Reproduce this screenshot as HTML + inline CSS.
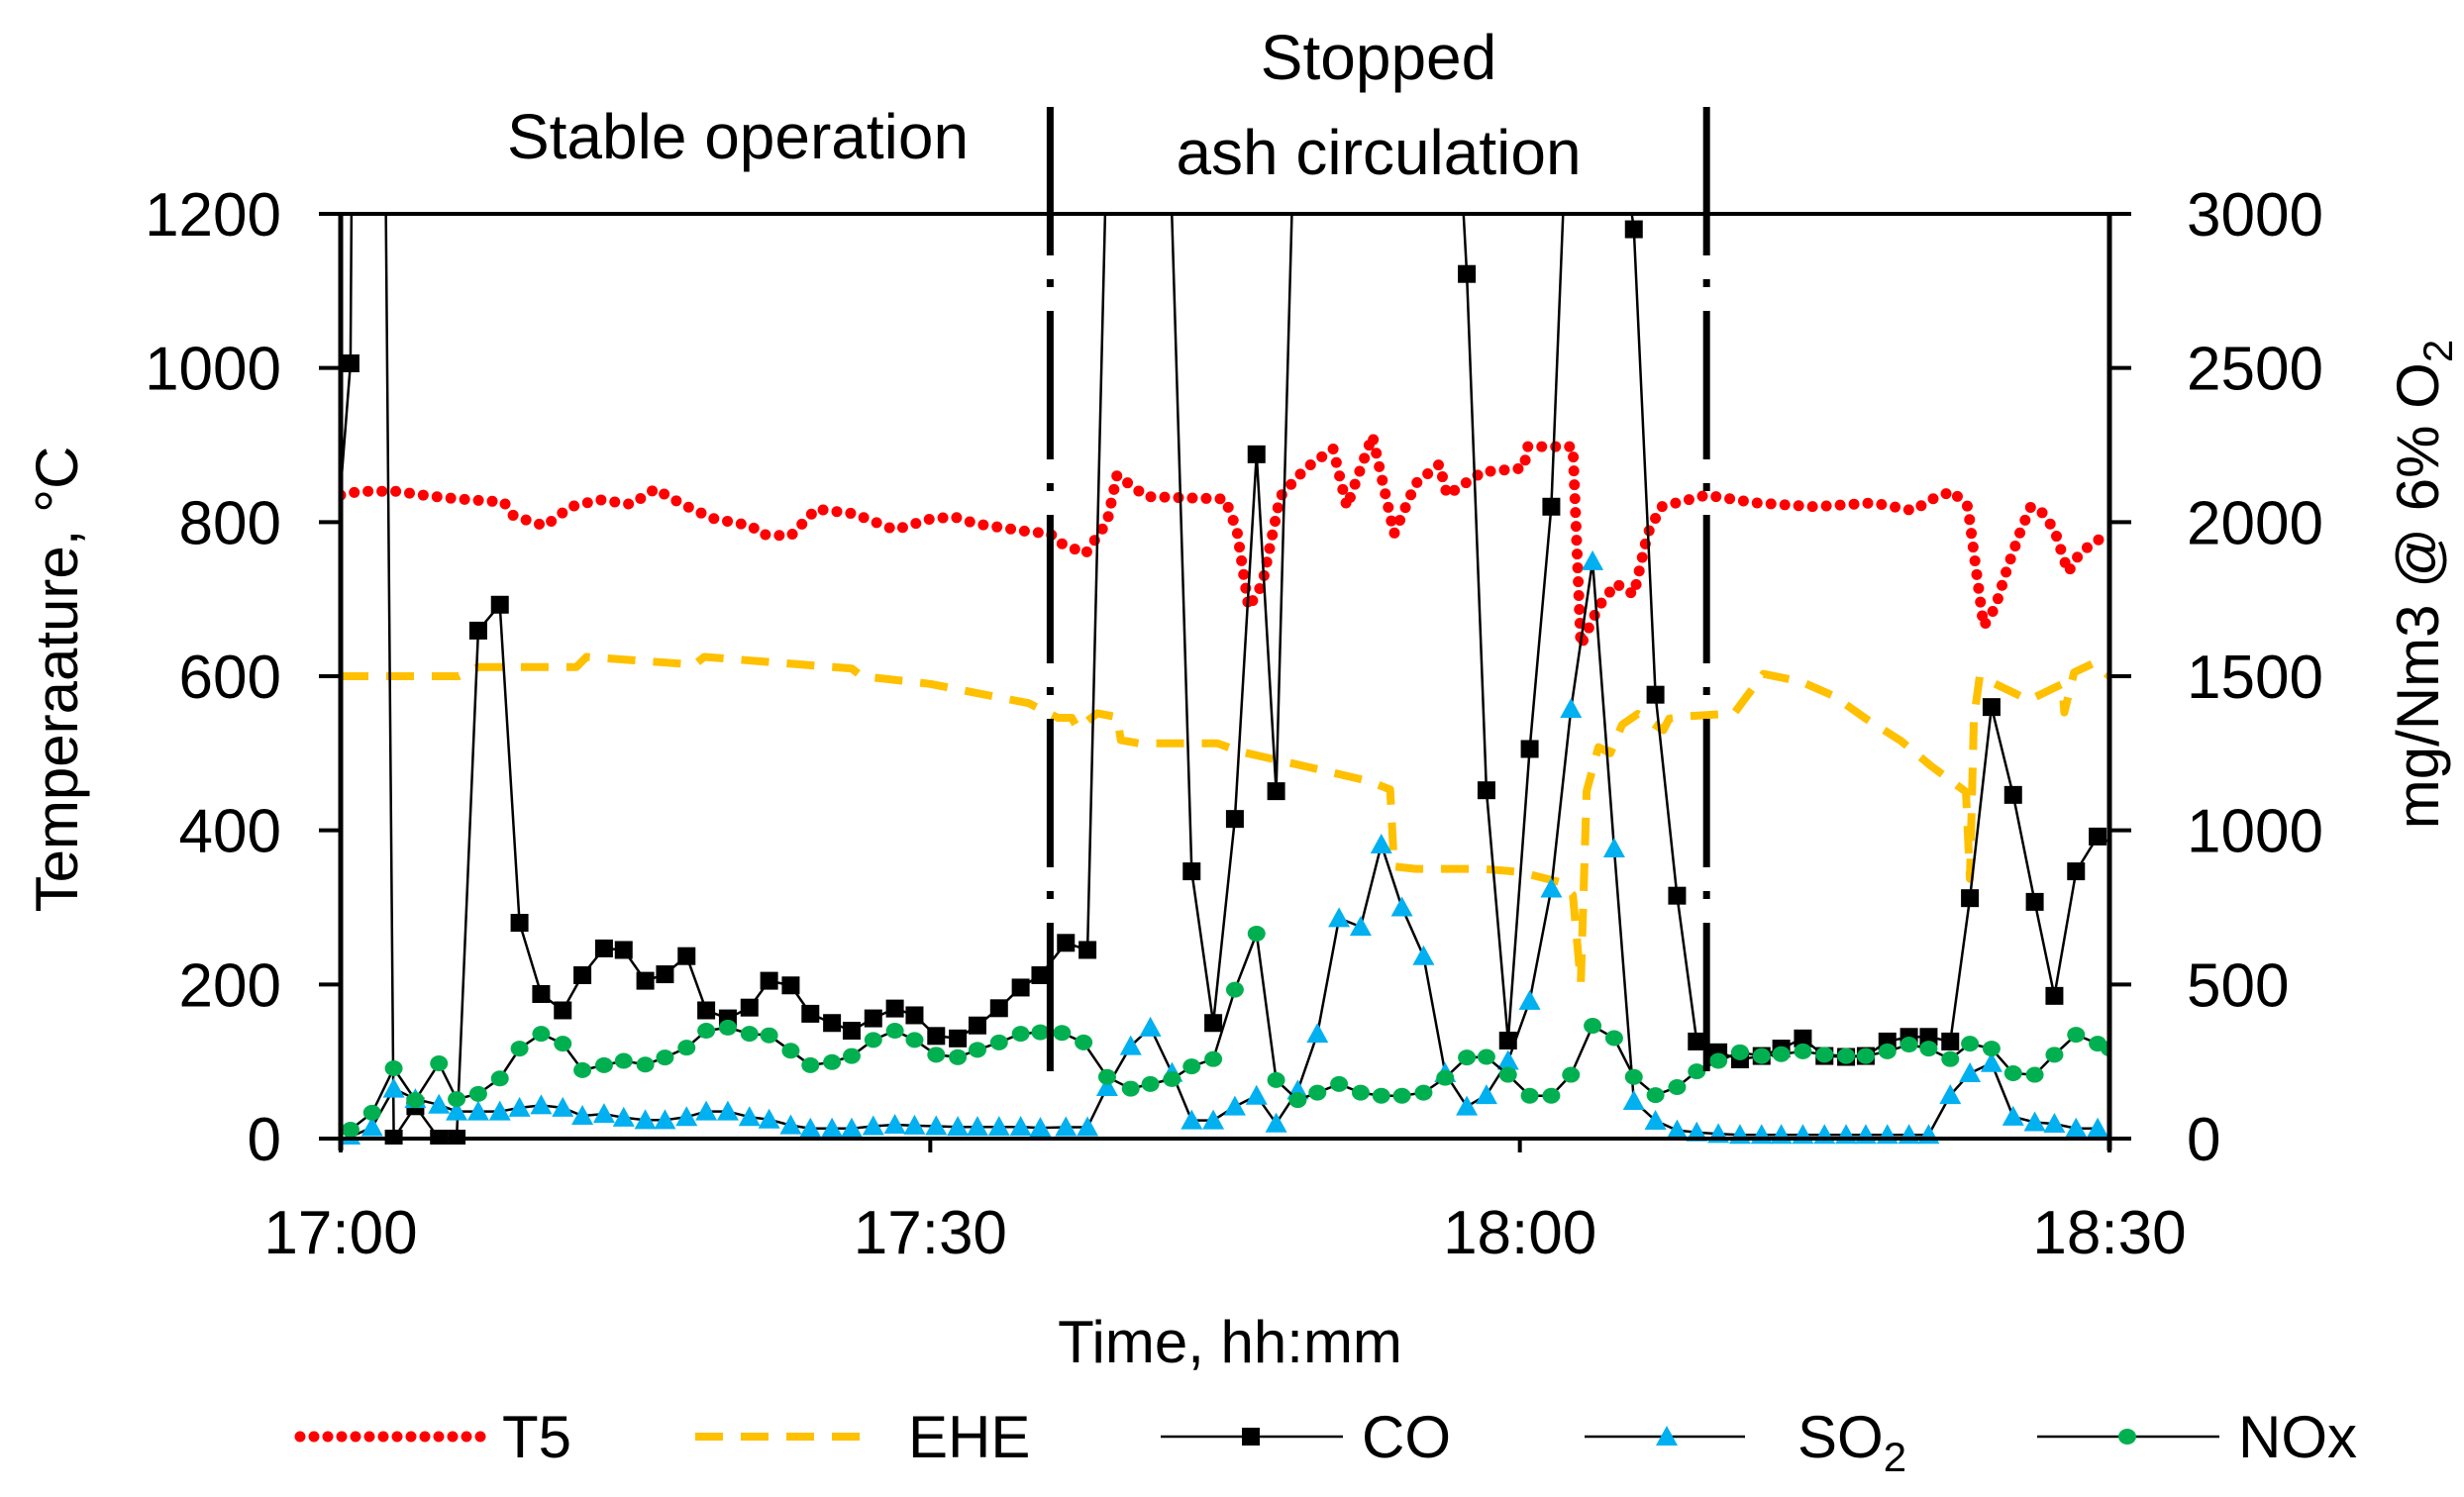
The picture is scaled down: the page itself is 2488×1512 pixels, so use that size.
<!DOCTYPE html>
<html><head><meta charset="utf-8">
<style>
html,body{margin:0;padding:0;background:#fff;}
svg{display:block;font-family:"Liberation Sans",Arial,sans-serif;}
</style></head>
<body>
<svg id="chart" xmlns="http://www.w3.org/2000/svg" width="2488" height="1512" viewBox="0 0 2488 1512">
<defs><clipPath id="plotclip"><rect x="344" y="216" width="1786" height="940"/></clipPath></defs>
<rect x="0" y="0" width="2488" height="1512" fill="#fff"/>
<g id="marks" clip-path="url(#plotclip)"></g>
<g id="axes"></g>
<g id="labels"></g>
<text x="745" y="160" font-size="64" text-anchor="middle">Stable operation</text>
<text x="1392" y="80" font-size="64" text-anchor="middle">Stopped</text>
<text x="1392" y="176" font-size="64" text-anchor="middle">ash circulation</text>
<text x="1242" y="1376" font-size="60" text-anchor="middle">Time, hh:mm</text>
<text x="0" y="0" font-size="60" text-anchor="middle" transform="translate(78,686) rotate(-90)">Temperaature, °C</text>
<text x="0" y="0" font-size="60" text-anchor="middle" transform="translate(2462,590) rotate(-90)">mg/Nm3 @ 6% O<tspan font-size="42" dy="14">2</tspan></text>
<g id="legend"></g>
</svg>
<script>
const t5Time=[0,1,2.8,4.5,6,8.3,8.8,10.4,11.7,13.2,14.8,16,17.4,18.9,20.9,21.4,22.9,24.2,26.1,28.2,30,31.2,32.3,34.9,36.1,36.6,37.9,39,39.5,41,45,45.6,46.2,46.9,47.8,49.1,50.5,51.2,52.5,53.6,54.7,55.9,56.3,58.1,60.2,60.4,62.7,63.1,64,64.9,65.8,66.5,67.2,69.5,72,75,78,80,81,82,82.8,83.1,83.6,84.2,84.8,85.5,86,86.5,87.2,87.9,88.5,89.3,90];
const t5Value=[835,840,840,834,830,826,808,795,820,829,823,843,823,805,795,784,782,817,811,790,804,807,798,788,785,773,759,800,861,833,830,790,689,720,833,870,895,820,912,785,850,875,835,865,870,898,898,640,690,720,706,785,820,835,825,820,825,815,830,840,820,760,665,690,740,790,820,815,790,735,760,775,785];
const eheTime=[0,6,7,12,12.5,18,18.5,26,26.5,30,33,35,36.5,37.2,37.5,38.5,39.5,39.7,40.6,44.6,45.8,49.1,52.3,53.4,53.6,54.7,58.1,60,62,62.7,63.1,63.4,64,64.6,65.2,66,66.7,67.3,67.6,68.5,70.9,72.4,74.3,76,77.6,79.4,80.9,82.7,82.9,83.1,83.4,84.6,85.9,87.6,87.7,88.2,89.2,90];
const eheValue=[600,600,612,612,625,615,625,610,600,590,575,565,546,546,532,552,547,517,513,513,502,483,464,453,353,350,350,346,333,316,202,451,508,500,537,551,540,530,545,548,552,603,593,574,545,516,484,450,337,545,600,585,569,590,553,605,617,600];
const coTime=[0,0.5,1.3,2.7,3.8,5.0,5.9,7.0,8.1,9.1,10.2,11.3,12.3,13.4,14.4,15.5,16.5,17.6,18.6,19.7,20.8,21.8,22.9,23.9,25.0,26.0,27.1,28.2,29.2,30.3,31.4,32.4,33.5,34.6,35.6,36.9,38.0,40.4,43.3,44.4,45.5,46.6,47.6,51.3,57.3,58.3,59.4,60.5,61.6,63.0,65.8,66.9,68.0,69.0,70.1,71.2,72.3,73.3,74.4,75.5,76.6,77.6,78.7,79.8,80.8,81.9,82.9,84.0,85.1,86.2,87.2,88.3,89.4,90];
const coValue=[2110,2515,10500,0,105,0,0,1648,1732,700,469,416,530,617,612,512,533,592,416,390,425,512,497,405,375,350,390,422,400,333,325,367,423,490,530,635,612,7000,867,375,1037,2220,1127,9800,2805,1130,318,1264,2050,4270,2950,1440,788,315,280,257,268,292,325,268,265,268,315,330,330,315,780,1400,1115,768,463,867,980,962];
const coMarkerSkip=[0,2,37,43,49,73];
const so2Time=[0.5,1.6,2.7,3.8,5.0,5.9,7.0,8.1,9.1,10.2,11.3,12.3,13.4,14.4,15.5,16.5,17.6,18.6,19.7,20.8,21.8,22.9,23.9,25.0,26.0,27.1,28.2,29.2,30.3,31.4,32.4,33.5,34.6,35.6,36.9,38.0,39.0,40.2,41.2,42.3,43.3,44.4,45.5,46.6,47.6,48.7,49.7,50.8,51.9,52.95,54.0,55.1,56.2,57.3,58.3,59.4,60.5,61.6,62.6,63.7,64.8,65.8,66.9,68.0,69.0,70.1,71.2,72.3,73.3,74.4,75.5,76.6,77.6,78.7,79.8,80.8,81.9,82.9,84.0,85.1,86.2,87.2,88.3,89.4];
const so2Value=[5,37,162,128,110,88,88,88,100,108,100,74,80,68,60,60,70,88,88,70,62,43,33,33,33,40,45,42,40,38,38,38,38,35,37,37,167,300,360,213,59,59,104,139,49,156,340,715,687,954,750,592,212,104,141,252,447,811,1394,1873,941,122,58,27,20,15,12,12,12,12,12,12,12,12,12,12,141,212,245,71,53,48,33,33];
const noxTime=[0.5,1.6,2.7,3.8,5.0,5.9,7.0,8.1,9.1,10.2,11.3,12.3,13.4,14.4,15.5,16.5,17.6,18.6,19.7,20.8,21.8,22.9,23.9,25.0,26.0,27.1,28.2,29.2,30.3,31.4,32.4,33.5,34.6,35.6,36.7,37.8,39.0,40.2,41.2,42.3,43.3,44.4,45.5,46.6,47.6,48.7,49.7,50.8,51.9,52.95,54.0,55.1,56.2,57.3,58.3,59.4,60.5,61.6,62.6,63.7,64.8,65.8,66.9,68.0,69.0,70.1,71.2,72.3,73.3,74.4,75.5,76.6,77.6,78.7,79.8,80.8,81.9,82.9,84.0,85.1,86.2,87.2,88.3,89.4,90];
const noxValue=[29,84,228,125,244,128,145,195,292,340,308,222,238,252,240,263,295,350,360,340,335,285,238,248,268,320,350,320,272,264,288,312,340,345,343,312,200,162,177,193,234,258,483,665,190,125,149,177,149,139,139,149,197,263,265,207,139,139,207,366,326,200,141,167,218,252,280,268,274,283,272,268,268,283,305,292,258,308,292,212,207,272,337,308,292];
const leftTicks=[0,200,400,600,800,1000,1200];
const rightTicks=[0,500,1000,1500,2000,2500,3000];
const xTicks=[0,30,60,90];
const xTickLabels=["17:00","17:30","18:00","18:30"];
const phaseLines=[36.1,69.5];

const X0=344,X1=2130,Y0=1150,Y1=216;
const xs=t=>X0+t/90*(X1-X0);
const yl=v=>Y0-v/1200*(Y0-Y1);
const yr=v=>Y0-v/3000*(Y0-Y1);
const NS="http://www.w3.org/2000/svg";
function mk(tag,attrs,parent){const e=document.createElementNS(NS,tag);for(const k in attrs)e.setAttribute(k,attrs[k]);parent.appendChild(e);return e;}
const marks=document.getElementById('marks'),axes=document.getElementById('axes'),labels=document.getElementById('labels'),legend=document.getElementById('legend');
function pts(ts,vs,f){return ts.map((t,i)=>xs(t).toFixed(1)+','+f(vs[i]).toFixed(1)).join(' ');}

let e=mk('polyline',{points:pts(eheTime,eheValue,yl),fill:'none',stroke:'#FFC000','stroke-width':8,'stroke-dasharray':'28 18','stroke-linejoin':'round'},marks);


e=mk('polyline',{points:pts(t5Time,t5Value,yl),fill:'none',stroke:'#FF0000','stroke-width':11,'stroke-dasharray':'0 14','stroke-linecap':'round'},marks);


e=mk('polyline',{points:pts(coTime,coValue,yr),fill:'none',stroke:'#000','stroke-width':2.5},marks);


coTime.forEach((t,i)=>{if(coMarkerSkip.includes(i))return;const m=mk('rect',{x:xs(t)-9,y:yr(coValue[i])-9,width:18,height:18,fill:'#000'},marks);

});
e=mk('polyline',{points:pts(so2Time,so2Value,yr),fill:'none',stroke:'#000','stroke-width':2.5},marks);


so2Time.forEach((t,i)=>{const x=xs(t),y=yr(so2Value[i]);const m=mk('polygon',{points:`${x-11},${y+9} ${x+11},${y+9} ${x},${y-11}`,fill:'#00B0F0'},marks);

});
e=mk('polyline',{points:pts(noxTime,noxValue,yr),fill:'none',stroke:'#000','stroke-width':2.5},marks);


noxTime.forEach((t,i)=>{const m=mk('ellipse',{cx:xs(t),cy:yr(noxValue[i]),rx:9,ry:8,fill:'#00B050'},marks);

});

e=mk('line',{x1:X0,y1:Y1,x2:X1,y2:Y1,stroke:'#000','stroke-width':4},axes);


e=mk('line',{x1:X0,y1:Y0,x2:X1,y2:Y0,stroke:'#000','stroke-width':4},axes);


e=mk('line',{x1:X0,y1:Y1,x2:X0,y2:Y0+12,stroke:'#000','stroke-width':5},axes);


e=mk('line',{x1:X1,y1:Y1,x2:X1,y2:Y0+12,stroke:'#000','stroke-width':5},axes);


phaseLines.forEach(t=>{const l=mk('line',{x1:xs(t),y1:108,x2:xs(t),y2:1088,stroke:'#000','stroke-width':7,'stroke-dasharray':'150 24 8 24'},axes);

});
leftTicks.forEach(v=>{const y=yl(v);const l=mk('line',{x1:X0-22,y1:y,x2:X0,y2:y,stroke:'#000','stroke-width':4},axes);


const tx=mk('text',{x:X0-60,y:y+22,'font-size':62,'text-anchor':'end'},labels);tx.textContent=v;

});
rightTicks.forEach(v=>{const y=yr(v);const l=mk('line',{x1:X1,y1:y,x2:X1+22,y2:y,stroke:'#000','stroke-width':4},axes);


const tx=mk('text',{x:X1+78,y:y+22,'font-size':62,'text-anchor':'start'},labels);tx.textContent=v;

});
xTicks.forEach((t,i)=>{const x=xs(t);const l=mk('line',{x1:x,y1:Y0,x2:x,y2:Y0+14,stroke:'#000','stroke-width':4},axes);


const tx=mk('text',{x:x,y:1266,'font-size':62,'text-anchor':'middle'},labels);tx.textContent=xTickLabels[i];

});

const LY=1451;
function legText(x,str,name){const t=mk('text',{x:x,y:LY+21,'font-size':60},legend);t.textContent=str;return t;}
e=mk('line',{x1:303,y1:LY,x2:487,y2:LY,stroke:'#FF0000','stroke-width':11,'stroke-dasharray':'0 14','stroke-linecap':'round'},legend);


e=legText(507,'T5','legend-t5-label');

e=mk('line',{x1:702,y1:LY,x2:885,y2:LY,stroke:'#FFC000','stroke-width':8,'stroke-dasharray':'28 18'},legend);


e=legText(917,'EHE','legend-ehe-label');

e=mk('line',{x1:1172,y1:LY,x2:1356,y2:LY,stroke:'#000','stroke-width':2.5},legend);


mk('rect',{x:1254,y:LY-9,width:18,height:18,fill:'#000'},legend);
e=legText(1375,'CO','legend-co-label');

e=mk('line',{x1:1600,y1:LY,x2:1762,y2:LY,stroke:'#000','stroke-width':2.5},legend);


mk('polygon',{points:`1672,${LY+9} 1694,${LY+9} 1683,${LY-11}`,fill:'#00B0F0'},legend);
e=legText(1815,'SO','legend-so2-label');

const sub=mk('tspan',{'font-size':42,dy:14},e);sub.textContent='2';
e=mk('line',{x1:2057,y1:LY,x2:2241,y2:LY,stroke:'#000','stroke-width':2.5},legend);


mk('ellipse',{cx:2148,cy:LY,rx:9,ry:8,fill:'#00B050'},legend);
e=legText(2260,'NOx','legend-nox-label');

</script>
</body></html>
